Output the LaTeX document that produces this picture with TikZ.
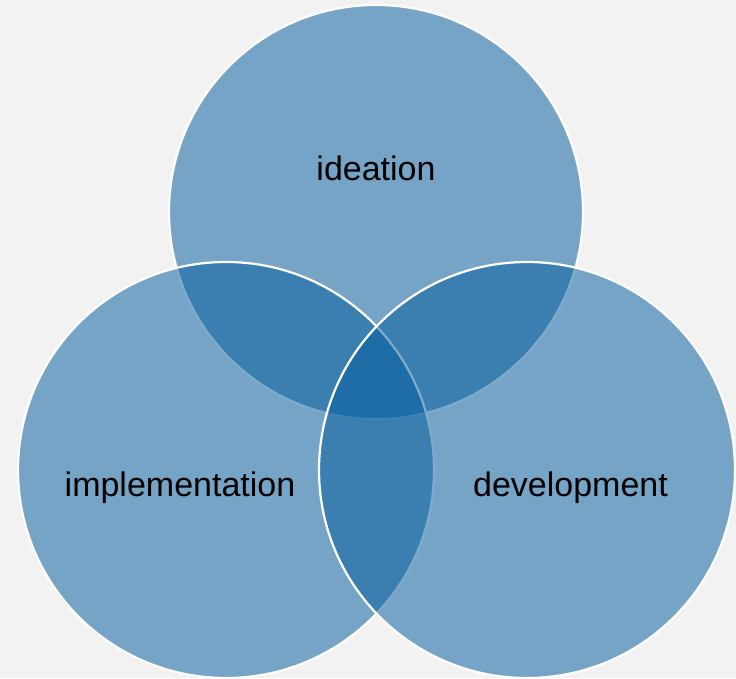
\documentclass[tikz,border=0pt]{standalone}
\usepackage{fontspec}
\setmainfont{Liberation Sans}
\definecolor{pagebg}{HTML}{F2F2F2}
\definecolor{vennblue}{RGB}{5,94,159}
\begin{document}
\begin{tikzpicture}[x=1pt,y=1pt,
  venn/.style={fill=vennblue,fill opacity=0.52,draw=white,line width=2.2pt},
  label/.style={font=\fontsize{34}{40}\selectfont,text=black,inner sep=0pt,anchor=base}]
  % canvas
  \fill[pagebg] (0,0) rectangle (736,678);
  \useasboundingbox (0,0) rectangle (736,678);
  % the three sets, drawn top, left, right
  \path[venn] (376,466) circle[radius=207];
  \path[venn] (226,208) circle[radius=208];
  \path[venn] (527,208) circle[radius=208];
  % set names
  \node[label] (ideation) at (376,497) {ideation};
  \node[label] (impl) at (180,182) {implementation};
  \node[label] (dev) at (570.5,182) {development};
\end{tikzpicture}
\end{document}
